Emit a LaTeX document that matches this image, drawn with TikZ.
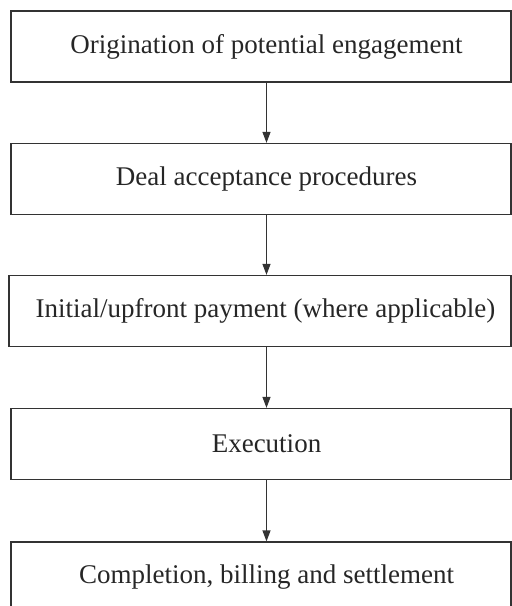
\documentclass[tikz,border=0pt]{standalone}
\usepackage{fontspec}
\setmainfont{Liberation Serif}
\usetikzlibrary{arrows.meta}
\begin{document}
\begin{tikzpicture}[x=1pt,y=-1pt,
  stepbox/.style={draw=black!80, line width=1.3pt, rectangle, inner sep=0pt,
    minimum height=71pt},
  steptext/.style={inner sep=0pt, text=black!85, font=\fontsize{27}{32}\selectfont},
  conn/.style={draw=black!80, line width=1.3pt, -{Triangle[length=11pt,width=8pt]}}]
\useasboundingbox (0,0) rectangle (512,606);
\clip (0,0) rectangle (512,606);
\node[stepbox, minimum width=500pt] (a) at (261,46.5) {};
\node[stepbox, minimum width=500pt] (b) at (261,179) {};
\node[stepbox, minimum width=502pt] (c) at (260,311) {};
\node[stepbox, minimum width=500pt] (d) at (261,444) {};
\node[stepbox, minimum width=500pt] (e) at (261,577.5) {};
\node[steptext] (ta) at (266.5,46.5) {Origination of potential engagement};
\node[steptext] (tb) at (266.5,179) {Deal acceptance procedures};
\node[steptext] (tc) at (265.5,311) {Initial/upfront payment (where applicable)};
\node[steptext] (td) at (266.5,444) {Execution};
\node[steptext] (te) at (266.5,577.5) {Completion, billing and settlement};
\draw[conn] (a.south -| 266.5,0) -- (b.north -| 266.5,0);
\draw[conn] (b.south -| 266.5,0) -- (c.north -| 266.5,0);
\draw[conn] (c.south -| 266.5,0) -- (d.north -| 266.5,0);
\draw[conn] (d.south -| 266.5,0) -- (e.north -| 266.5,0);
\end{tikzpicture}
\end{document}
